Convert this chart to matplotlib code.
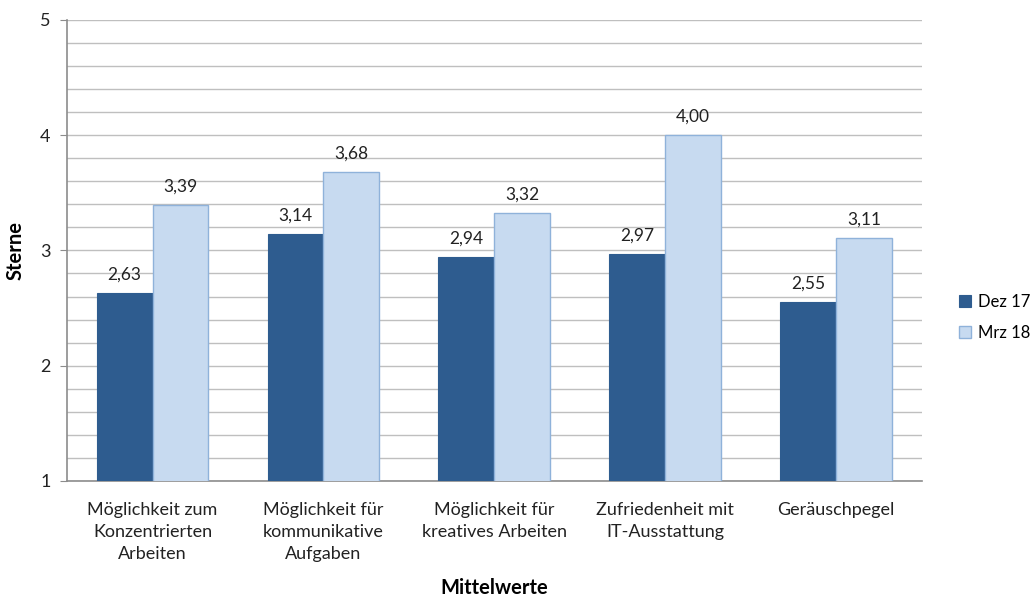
import numpy as np
import matplotlib.pyplot as plt
from matplotlib.ticker import MultipleLocator

plt.rcParams['font.family'] = ['Lato', 'DejaVu Sans']

# Daten
kategorien = ['Möglichkeit zum\nKonzentrierten\nArbeiten',
              'Möglichkeit für\nkommunikative\nAufgaben',
              'Möglichkeit für\nkreatives Arbeiten',
              'Zufriedenheit mit\nIT-Ausstattung',
              'Geräuschpegel']
dez17 = [2.63, 3.14, 2.94, 2.97, 2.55]
mrz18 = [3.39, 3.68, 3.32, 4.00, 3.11]
serien = ['Dez 17', 'Mrz 18']

fig = plt.figure(figsize=(10.32, 5.99), dpi=100)
ax = fig.add_axes([0.065, 0.197, 0.828, 0.77])

x = np.arange(len(kategorien))
w = 0.327
b1 = ax.bar(x - w / 2, dez17, w, color='#2E5C8F', edgecolor='#2E5C8F',
            linewidth=0.8, label=serien[0], zorder=3)
b2 = ax.bar(x + w / 2, mrz18, w, color='#C7DAF0', edgecolor='#8FB2DA',
            linewidth=1.0, label=serien[1], zorder=3)

for bars, vals in ((b1, dez17), (b2, mrz18)):
    for r, v in zip(bars, vals):
        ax.text(r.get_x() + r.get_width() / 2, v + 0.09,
                f'{v:.2f}'.replace('.', ','), ha='center', va='bottom',
                fontsize=12.5, color='#222222')

ax.set_xlim(-0.5, len(kategorien) - 0.5)
ax.set_ylim(1, 5)
ax.yaxis.set_major_locator(MultipleLocator(1))
ax.yaxis.set_minor_locator(MultipleLocator(0.2))
ax.grid(axis='y', which='both', color='#BFBFBF', linewidth=1.0, zorder=0)
ax.set_xticks(x)
ax.set_xticklabels(kategorien, fontsize=13, color='#222222', linespacing=1.45)
ax.tick_params(axis='x', length=0, pad=15)
ax.tick_params(axis='y', which='major', length=5, color='#8C8C8C',
               labelsize=13, labelcolor='#222222', pad=7)
ax.tick_params(axis='y', which='minor', length=0)

for s in ('top', 'right'):
    ax.spines[s].set_visible(False)
for s in ('left', 'bottom'):
    ax.spines[s].set_color('#8C8C8C')
    ax.spines[s].set_linewidth(1.2)

ax.set_ylabel('Sterne', fontsize=14.5, fontweight='bold', labelpad=10)
ax.set_xlabel('Mittelwerte', fontsize=14.5, fontweight='bold', labelpad=12)

fig.legend(handles=[b1, b2], labels=serien, loc='upper left',
           bbox_to_anchor=(0.915, 0.535), frameon=False, fontsize=12,
           handlelength=0.7, handleheight=0.7, handletextpad=0.4,
           labelspacing=0.9)

fig.savefig('out.png', dpi=100)
